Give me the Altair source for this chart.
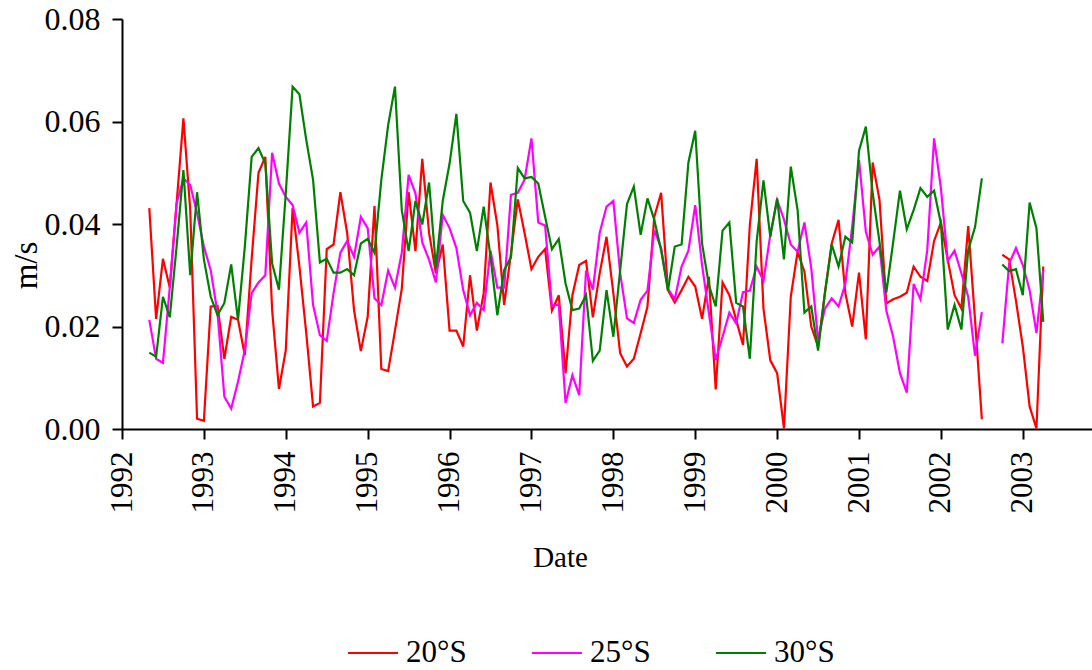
import altair as alt
import pandas as pd

# Monthly mean speeds (m/s), May 1992 - Apr 2003; None marks missing months
start_year, start_month = 1992, 5

lat_20S = [
    0.0431, 0.0215, 0.0332, 0.0276, 0.0440, 0.0606, 0.0427, 0.0020, 0.0016, 0.0239,
    0.0240, 0.0137, 0.0219, 0.0213, 0.0144, 0.0332, 0.0500, 0.0531, 0.0232, 0.0078,
    0.0154, 0.0431, 0.0317, 0.0187, 0.0044, 0.0051, 0.0351, 0.0360, 0.0462, 0.0382,
    0.0232, 0.0152, 0.0219, 0.0435, 0.0117, 0.0113, 0.0192, 0.0274, 0.0462, 0.0347,
    0.0527, 0.0382, 0.0304, 0.0360, 0.0192, 0.0192, 0.0161, 0.0300, 0.0192, 0.0265,
    0.0481, 0.0398, 0.0242, 0.0343, 0.0448, 0.0382, 0.0312, 0.0336, 0.0351, 0.0231,
    0.0261, 0.0109, 0.0261, 0.0320, 0.0328, 0.0218, 0.0304, 0.0375, 0.0265, 0.0148,
    0.0122, 0.0137, 0.0187, 0.0239, 0.0414, 0.0461, 0.0271, 0.0247, 0.0271, 0.0297,
    0.0278, 0.0215, 0.0297, 0.0077, 0.0286, 0.0261, 0.0213, 0.0164, 0.0398, 0.0527,
    0.0235, 0.0134, 0.0109, 0.0001, 0.0258, 0.0346, 0.0307, 0.0200, 0.0161, 0.0265,
    0.0362, 0.0408, 0.0265, 0.0200, 0.0305, 0.0175, 0.0520, 0.0447, 0.0245, 0.0253,
    0.0258, 0.0266, 0.0317, 0.0297, 0.0289, 0.0367, 0.0403, 0.0330, 0.0261, 0.0235,
    0.0396, 0.0213, 0.0019, None, None, 0.0340, 0.0331, 0.0250, 0.0161, 0.0044,
    0.0001, 0.0317,
]

lat_25S = [
    0.0213, 0.0137, 0.0129, 0.0276, 0.0440, 0.0489, 0.0476, 0.0421, 0.0356, 0.0310,
    0.0226, 0.0063, 0.0040, 0.0092, 0.0154, 0.0265, 0.0286, 0.0300, 0.0539, 0.0479,
    0.0453, 0.0437, 0.0383, 0.0403, 0.0242, 0.0183, 0.0172, 0.0265, 0.0344, 0.0367,
    0.0336, 0.0414, 0.0392, 0.0255, 0.0242, 0.0309, 0.0276, 0.0344, 0.0496, 0.0460,
    0.0364, 0.0330, 0.0286, 0.0418, 0.0392, 0.0353, 0.0271, 0.0222, 0.0246, 0.0232,
    0.0348, 0.0276, 0.0276, 0.0457, 0.0461, 0.0487, 0.0567, 0.0403, 0.0397, 0.0240,
    0.0243, 0.0051, 0.0105, 0.0066, 0.0309, 0.0272, 0.0383, 0.0434, 0.0445, 0.0304,
    0.0216, 0.0207, 0.0252, 0.0270, 0.0388, 0.0353, 0.0274, 0.0253, 0.0317, 0.0348,
    0.0437, 0.0320, 0.0226, 0.0135, 0.0180, 0.0227, 0.0206, 0.0267, 0.0270, 0.0317,
    0.0289, 0.0379, 0.0447, 0.0409, 0.0360, 0.0346, 0.0403, 0.0314, 0.0174, 0.0235,
    0.0255, 0.0239, 0.0284, 0.0395, 0.0525, 0.0385, 0.0340, 0.0356, 0.0231, 0.0180,
    0.0109, 0.0071, 0.0283, 0.0253, 0.0349, 0.0567, 0.0470, 0.0328, 0.0348, 0.0304,
    0.0258, 0.0143, 0.0228, None, None, 0.0167, 0.0323, 0.0353, 0.0320, 0.0271,
    0.0187, 0.0310,
]

lat_30S = [
    0.0149, 0.0141, 0.0258, 0.0218, 0.0356, 0.0505, 0.0300, 0.0462, 0.0331, 0.0258,
    0.0222, 0.0246, 0.0321, 0.0213, 0.0356, 0.0531, 0.0548, 0.0518, 0.0323, 0.0272,
    0.0460, 0.0668, 0.0653, 0.0564, 0.0486, 0.0325, 0.0332, 0.0305, 0.0305, 0.0312,
    0.0300, 0.0362, 0.0371, 0.0344, 0.0486, 0.0593, 0.0668, 0.0427, 0.0347, 0.0445,
    0.0399, 0.0481, 0.0315, 0.0445, 0.0518, 0.0615, 0.0445, 0.0422, 0.0347, 0.0434,
    0.0336, 0.0222, 0.0310, 0.0335, 0.0509, 0.0489, 0.0492, 0.0479, 0.0414, 0.0351,
    0.0371, 0.0284, 0.0232, 0.0235, 0.0261, 0.0133, 0.0153, 0.0271, 0.0180, 0.0310,
    0.0439, 0.0473, 0.0379, 0.0450, 0.0408, 0.0349, 0.0270, 0.0356, 0.0360, 0.0520,
    0.0582, 0.0362, 0.0281, 0.0239, 0.0387, 0.0403, 0.0246, 0.0239, 0.0137, 0.0366,
    0.0485, 0.0375, 0.0450, 0.0331, 0.0512, 0.0427, 0.0227, 0.0239, 0.0153, 0.0265,
    0.0360, 0.0317, 0.0375, 0.0364, 0.0543, 0.0590, 0.0460, 0.0365, 0.0266, 0.0364,
    0.0465, 0.0390, 0.0427, 0.0470, 0.0453, 0.0465, 0.0401, 0.0194, 0.0242, 0.0194,
    0.0349, 0.0394, 0.0489, None, None, 0.0321, 0.0308, 0.0312, 0.0261, 0.0442,
    0.0392, 0.0209,
]

series_names = ["20°S", "25°S", "30°S"]
series_colors = ["#ff0000", "#ff00ff", "#008000"]
year_ticks = list(range(1992, 2004))

rows = []
for name, values in zip(series_names, [lat_20S, lat_25S, lat_30S]):
    segment = 0
    for i, v in enumerate(values):
        if v is None:
            segment += 1
            continue
        year = start_year + (start_month - 1 + i) // 12
        month = (start_month - 1 + i) % 12 + 1
        rows.append({"t": year + (month - 1) / 12, "v": v,
                     "series": name, "segment": segment})
df = pd.DataFrame(rows)

font = "Liberation Serif"

chart = alt.Chart(df).mark_line(strokeWidth=2.2).encode(
    x=alt.X(
        "t:Q",
        scale=alt.Scale(domain=[1992, 2003.845], nice=False, zero=False),
        axis=alt.Axis(
            values=year_ticks, format="d", labelAngle=270,
            labelAlign="right", labelBaseline="middle",
            labelPadding=12, tickSize=10, grid=False,
            title="Date", titleX=438, titleY=137,
            titleAlign="center", titleBaseline="alphabetic",
        ),
    ),
    y=alt.Y(
        "v:Q",
        scale=alt.Scale(domain=[0, 0.08], nice=False),
        axis=alt.Axis(
            values=[0, 0.02, 0.04, 0.06, 0.08], format=".2f",
            labelPadding=12, tickSize=10, grid=False, labelFontSize=32,
            title="m/s", titleX=-96, titleY=246, titleAngle=270,
            titleAlign="center", titleBaseline="middle", titleFontSize=33,
        ),
    ),
    color=alt.Color(
        "series:N",
        scale=alt.Scale(domain=series_names, range=series_colors),
        legend=alt.Legend(
            title=None, orient="none", direction="horizontal",
            legendX=225, legendY=608, padding=0,
            symbolType="stroke", symbolSize=2500, symbolStrokeWidth=2,
            labelOffset=7, columnPadding=61,
        ),
    ),
    detail="segment:N",
    order="t:Q",
).properties(
    width=970,
    height=410,
    background="white",
    autosize=alt.AutoSizeParams(type="none"),
    padding={"left": 122, "top": 19, "right": 0, "bottom": 241},
).configure_view(
    stroke=None
).configure_axis(
    labelFont=font, titleFont=font, labelFontSize=31, titleFontSize=29,
    titleFontWeight="normal", labelColor="black", titleColor="black",
    domainColor="black", tickColor="black", domainWidth=2, tickWidth=2,
    labelFlush=False, labelOverlap=False,
).configure_legend(
    labelFont=font, labelFontSize=31, labelColor="black",
)

chart.save("out.html", embed_options={"renderer": "svg", "actions": False})
